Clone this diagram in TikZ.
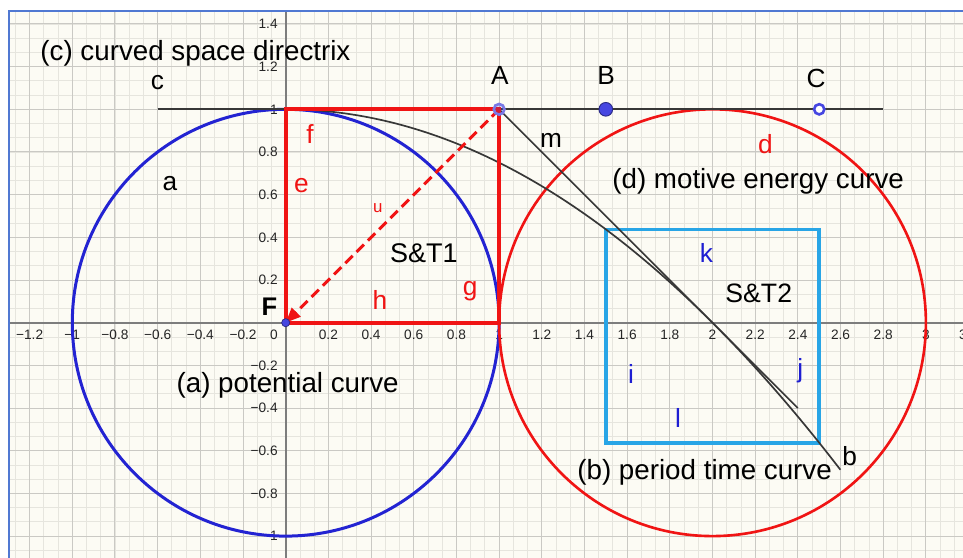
\documentclass[tikz,border=0pt]{standalone}
\usepackage{fontspec}
\setmainfont{Liberation Sans}
\usetikzlibrary{arrows.meta}
\definecolor{bg}{RGB}{252,251,244}
\definecolor{gridmin}{RGB}{230,229,222}
\definecolor{gridmaj}{RGB}{202,201,196}
\definecolor{axisgray}{RGB}{125,125,125}
\definecolor{ggblue}{RGB}{35,35,210}
\definecolor{ggred}{RGB}{240,20,20}
\definecolor{ggcyan}{RGB}{40,165,230}
\definecolor{framecol}{RGB}{80,120,210}
\definecolor{curvecol}{RGB}{55,55,55}
\definecolor{ptblue}{RGB}{70,70,225}
\definecolor{ptring}{RGB}{120,120,230}
\definecolor{labblue}{RGB}{30,30,210}
\begin{document}
\begin{tikzpicture}[x=4cm,y=4cm,
  tick/.style={inner sep=0pt,font=\fontsize{7.3}{8}\selectfont,text=black!85},
  lab/.style={inner sep=0pt,font=\fontsize{14}{16}\selectfont},
  big/.style={inner sep=0pt,font=\fontsize{14.8}{17}\selectfont},
  redlab/.style={lab,text=ggred},
  bluelab/.style={lab,text=labblue},
  curveline/.style={curvecol,line width=0.9pt},
  sqline/.style={ggred,line width=2.1pt}]
\useasboundingbox (-1.3388,-1.0980) rectangle (3.1738,1.5122);
\fill[white] (-1.3388,-1.0980) rectangle (3.1738,1.5122);
\fill[bg] (-1.2966,-1.2) rectangle (3.3,1.4606);
\begin{scope}
  \clip (-1.2966,-1.2) rectangle (3.3,1.4606);
  \draw[gridmin,line width=0.45pt,step=0.0666667] (-1.4,-1.2) grid (3.3,1.5);
  \draw[gridmaj,line width=0.55pt,step=0.2] (-1.4,-1.2) grid (3.3,1.5);
\end{scope}
% axes
\draw[axisgray,line width=0.9pt] (-1.2966,0) -- (3.3,0);
\draw[axisgray,line width=0.9pt] (0,-1.2) -- (0,1.4606);
% frame
\draw[framecol,line width=1.1pt] (-1.2966,-1.2) -- (-1.2966,1.4606) -- (3.3,1.4606);
% tick labels
\foreach \v/\t [count=\i] in {-1.2/−1.2,-1/−1,-0.8/−0.8,-0.6/−0.6,-0.4/−0.4,-0.2/−0.2,0.2/0.2,0.4/0.4,0.6/0.6,0.8/0.8,1/1,1.2/1.2,1.4/1.4,1.6/1.6,1.8/1.8,2/2,2.2/2.2,2.4/2.4,2.6/2.6,2.8/2.8,3/3,3.2/3.2}
  \node[tick] (xt\i) at (\v,-0.058) {\t};
\foreach \v/\t [count=\i] in {1.4/1.4,1.2/1.2,1/1,0.8/0.8,0.6/0.6,0.4/0.4,0.2/0.2,-0.2/−0.2,-0.4/−0.4,-0.6/−0.6,-0.8/−0.8,-1/−1}
  \node[tick,anchor=east] (yt\i) at (-0.036,\v) {\t};
\node[tick,anchor=east] (orig) at (-0.036,-0.058) {0};
% key points
\coordinate (F) at (0,0);
\coordinate (A) at (1,1);
\coordinate (B) at (1.5,1);
\coordinate (C) at (2.5,1);
\coordinate (D) at (2,0);
\coordinate (cL) at (-0.6,1);
\coordinate (cR) at (2.8,1);
\coordinate (mEnd) at (2.4,-0.4);
\coordinate (sqA) at (1.5,-0.563);
\coordinate (sqB) at (2.5,0.437);
% circles
\draw[ggblue,line width=1.6pt] (F) circle[radius=1];
\draw[ggred,line width=1.4pt] (D) circle[radius=1];
% cyan square
\draw[ggcyan,line width=2pt] (sqA) rectangle (sqB);
% directrix c, curve b, line m
\draw[curveline] (cL) -- (cR);
\draw[curveline] plot[domain=0:2.6,samples=90,smooth] (\x,{1-\x*\x/4});
\draw[curveline] (A) -- (mEnd);
% red square
\draw[sqline] (F) rectangle (A);
% vector u
\draw[ggred,line width=1.6pt,dash pattern=on 5.5pt off 3pt,-{Triangle[length=8pt,width=6.5pt]}] (A) -- (F);
% points
\fill[ptblue,opacity=0.18] (A) circle[radius=0.028];
\draw[ptring,line width=1.4pt] (A) circle[radius=0.025];
\draw[fill=ptblue,draw=ptblue!60!black,line width=0.5pt] (B) circle[radius=0.032];
\draw[fill=white,draw=ptblue,line width=1.4pt] (C) circle[radius=0.024];
\draw[fill=ptblue,draw=ptblue!60!black,line width=0.4pt] (F) circle[radius=0.019];
% labels
\node[big,anchor=base west] (tc) at (-1.151,1.231) {(c) curved space directrix};
\node[lab,anchor=base] (lc) at (-0.601,1.091) {c};
\node[lab,anchor=base] (la) at (-0.542,0.621) {a};
\node[redlab,anchor=base] (lf) at (0.114,0.842) {f};
\node[redlab,anchor=base] (le) at (0.074,0.612) {e};
\node[lab,anchor=base] (lA) at (1.004,1.114) {A};
\node[lab,anchor=base] (lB) at (1.502,1.114) {B};
\node[lab,anchor=base] (lC) at (2.485,1.104) {C};
\node[lab,anchor=base] (lm) at (1.243,0.823) {m};
\node[redlab,anchor=base] (ld) at (2.248,0.795) {d};
\node[big,anchor=base west] (td) at (1.529,0.630) {(d) motive energy curve};
\node[inner sep=0pt,font=\fontsize{9}{10}\selectfont,text=ggred,anchor=base] (lu) at (0.432,0.515) {u};
\node[lab,font=\fontsize{14.4}{16}\selectfont,anchor=base west] (st1) at (0.488,0.280) {S\&T1};
\node[redlab,anchor=base] (lg) at (0.864,0.129) {g};
\node[redlab,anchor=base] (lh) at (0.442,0.060) {h};
\node[inner sep=0pt,font=\fontsize{13.6}{15}\selectfont\bfseries,anchor=base] (lF) at (-0.076,0.036) {F};
\node[bluelab,anchor=base] (lk) at (1.972,0.280) {k};
\node[lab,font=\fontsize{14.2}{16}\selectfont,anchor=base west] (st2) at (2.059,0.097) {S\&T2};
\node[bluelab,anchor=base] (li) at (1.618,-0.283) {i};
\node[bluelab,anchor=base] (lj) at (2.411,-0.259) {j};
\node[bluelab,anchor=base] (ll) at (1.839,-0.489) {l};
\node[big,anchor=base west] (ta) at (-0.513,-0.329) {(a) potential curve};
\node[big,anchor=base west] (tb) at (1.365,-0.737) {(b) period time curve};
\node[lab,anchor=base] (lb) at (2.643,-0.667) {b};
\end{tikzpicture}
\end{document}
